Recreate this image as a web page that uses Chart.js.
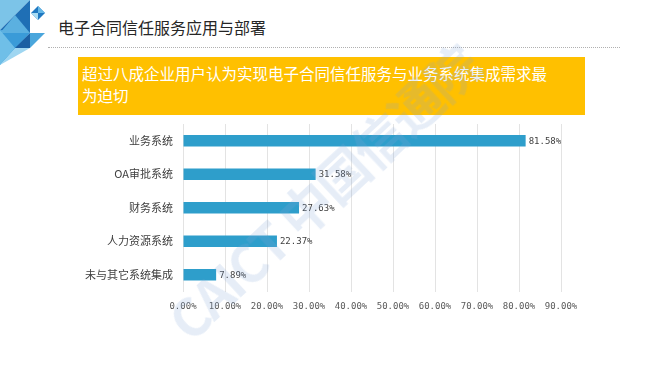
<!DOCTYPE html>
<html><head><meta charset="utf-8">
<script src="https://cdn.jsdelivr.net/npm/chart.js@4/dist/chart.umd.min.js"></script>
<style>
html,body{margin:0;padding:0;background:#fff;}
#wrap{position:relative;width:650px;height:366px;overflow:hidden;font-family:"Noto Sans CJK SC",sans-serif;}
#title{position:absolute;left:58px;top:15px;font-size:16px;color:#262626;line-height:24px;white-space:nowrap;}
#dots{position:absolute;left:48px;top:47px;width:572px;border-top:1px dotted #b0b0b0;}
#box{position:absolute;left:78px;top:57px;width:507px;height:58px;background:#FFC000;box-sizing:border-box;padding:5px 0 0 4px;color:#fff;font-size:15.5px;line-height:22px;}
#wm{position:absolute;left:150px;top:300px;transform:rotate(-43deg);transform-origin:left top;font-weight:bold;font-size:52px;color:rgba(130,165,215,0.2);white-space:nowrap;font-family:"Noto Sans CJK SC",sans-serif;pointer-events:none;letter-spacing:-2px;}
#cv{position:absolute;left:0;top:0;}
svg{position:absolute;left:0;top:0;}
</style></head><body>
<div id="wrap">
<svg width="60" height="70">
<polygon points="0,0 30,0 0,30" fill="#7cc4e8"/>
<polygon points="30,0 0,30 30,33" fill="#1f6fb5"/>
<polygon points="0,30 30,33 0,65" fill="#3a9bd8"/>
<polygon points="15,15 30,33 0,33" fill="#5bb0e0"/>
<polygon points="30,33 30,48 15,48" fill="#1b5fa3"/>
<polygon points="15,48 30,48 0,65" fill="#9fd6f1"/>
<polygon points="30,33 45,33 30,48" fill="#4aa6dc"/>
<polygon points="0,30 15,48 0,65" fill="#6fbfe8"/>
<polygon points="38,6 45,13 38,20 31,13" fill="#1f78c1"/>
<polygon points="38,6 45,13 38,13" fill="#64b7e6"/>
<polygon points="31,13 38,20 38,13" fill="#a9dcf3"/>
</svg>
<div id="title">电子合同信任服务应用与部署</div>
<div id="dots"></div>
<div id="box">超过八成企业用户认为实现电子合同信任服务与业务系统集成需求最<br>为迫切</div>
<canvas id="cv" width="650" height="366"></canvas>
<div id="wm">CAICT 中国信通院</div>
</div>
<script>
const categories = ["业务系统","OA审批系统","财务系统","人力资源系统","未与其它系统集成"];
const values = [81.58, 31.58, 27.63, 22.37, 7.89];
const tickMax = 90;
const tickStep = 10;

const valueLabels = {
  id:'valueLabels',
  afterDatasetsDraw(chart){
    const ctx = chart.ctx;
    const meta = chart.getDatasetMeta(0);
    ctx.save();
    ctx.font = '9px "DejaVu Sans Mono", monospace';
    ctx.fillStyle = '#404040';
    ctx.textBaseline = 'middle';
    ctx.textAlign = 'left';
    meta.data.forEach((bar,i)=>{
      ctx.fillText(values[i].toFixed(2)+'%', bar.x+3, bar.y+0.5);
    });
    ctx.restore();
  }
};

new Chart(document.getElementById('cv'), {
  type:'bar',
  data:{labels:categories, datasets:[{data:values, backgroundColor:'#2E9ECB', borderWidth:0, barPercentage:0.35, categoryPercentage:1}]},
  options:{
    indexAxis:'y', responsive:false, animation:false,
    layout:{padding:{left:0,top:124,right:89,bottom:0}},
    plugins:{legend:{display:false}, tooltip:{enabled:false}},
    scales:{
      x:{min:0,max:tickMax,
        ticks:{stepSize:tickStep, padding:10, color:'#595959', font:{family:'"DejaVu Sans Mono", monospace', size:9}, callback:v=>v.toFixed(2)+'%', maxRotation:0},
        grid:{color:'#e3e3e3', drawTicks:false}, border:{display:false},
        afterFit:s=>{s.height=74.5;}
      },
      y:{ticks:{padding:10, color:'#404040', font:{family:'"Noto Sans CJK SC", sans-serif', size:11}},
        grid:{display:false, drawTicks:false}, border:{display:false},
        afterFit:s=>{s.width=183;}
      }
    }
  },
  plugins:[valueLabels]
});
</script>
</body></html>
